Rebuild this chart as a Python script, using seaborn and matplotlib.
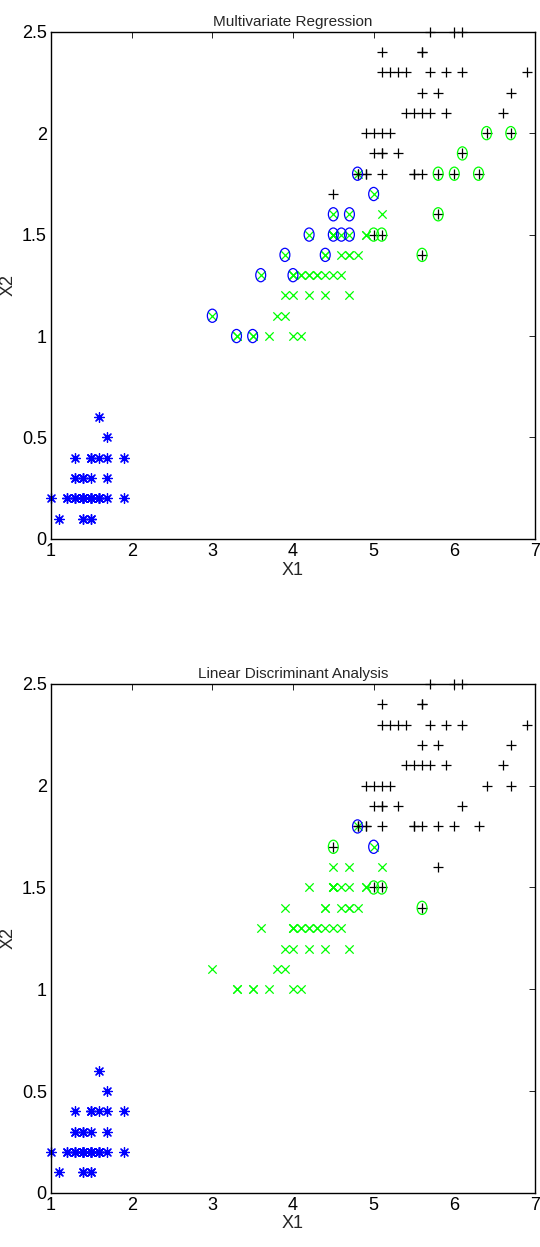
import numpy as np
import pandas as pd
import matplotlib
matplotlib.use("Agg")
import matplotlib.pyplot as plt
from matplotlib.path import Path
from matplotlib.transforms import Affine2D
import seaborn as sns

# iris petal length (X1) / petal width (X2)
setosa_x1 = [1.4, 1.4, 1.3, 1.5, 1.4, 1.7, 1.4, 1.5, 1.4, 1.5, 1.5, 1.6, 1.4, 1.1, 1.2, 1.5, 1.3, 1.4, 1.7, 1.5,
             1.7, 1.5, 1.0, 1.7, 1.9, 1.6, 1.6, 1.5, 1.4, 1.6, 1.6, 1.5, 1.5, 1.4, 1.5, 1.2, 1.3, 1.4, 1.3, 1.5,
             1.3, 1.3, 1.3, 1.6, 1.9, 1.4, 1.6, 1.4, 1.5, 1.4]
setosa_x2 = [0.2, 0.2, 0.2, 0.2, 0.2, 0.4, 0.3, 0.2, 0.2, 0.1, 0.2, 0.2, 0.1, 0.1, 0.2, 0.4, 0.4, 0.3, 0.3, 0.3,
             0.2, 0.4, 0.2, 0.5, 0.2, 0.2, 0.4, 0.2, 0.2, 0.2, 0.2, 0.4, 0.1, 0.2, 0.2, 0.2, 0.2, 0.1, 0.2, 0.2,
             0.3, 0.3, 0.2, 0.6, 0.4, 0.3, 0.2, 0.2, 0.2, 0.2]
versi_x1 = [4.7, 4.5, 4.9, 4.0, 4.6, 4.5, 4.7, 3.3, 4.6, 3.9, 3.5, 4.2, 4.0, 4.7, 3.6, 4.4, 4.5, 4.1, 4.5, 3.9,
            4.8, 4.0, 4.9, 4.7, 4.3, 4.4, 4.8, 5.0, 4.5, 3.5, 3.8, 3.7, 3.9, 5.1, 4.5, 4.5, 4.7, 4.4, 4.1, 4.0,
            4.4, 4.6, 4.0, 3.3, 4.2, 4.2, 4.2, 4.3, 3.0, 4.1]
versi_x2 = [1.4, 1.5, 1.5, 1.3, 1.5, 1.3, 1.6, 1.0, 1.3, 1.4, 1.0, 1.5, 1.0, 1.4, 1.3, 1.4, 1.5, 1.0, 1.5, 1.1,
            1.8, 1.3, 1.5, 1.2, 1.3, 1.4, 1.4, 1.7, 1.5, 1.0, 1.1, 1.0, 1.2, 1.6, 1.5, 1.6, 1.5, 1.3, 1.3, 1.3,
            1.2, 1.4, 1.2, 1.0, 1.3, 1.2, 1.3, 1.3, 1.1, 1.3]
virg_x1 = [6.0, 5.1, 5.9, 5.6, 5.8, 6.6, 4.5, 6.3, 5.8, 6.1, 5.1, 5.3, 5.5, 5.0, 5.1, 5.3, 5.5, 6.7, 6.9, 5.0,
           5.7, 4.9, 6.7, 4.9, 5.7, 6.0, 4.8, 4.9, 5.6, 5.8, 6.1, 6.4, 5.6, 5.1, 5.6, 6.1, 5.6, 5.5, 4.8, 5.4,
           5.6, 5.1, 5.1, 5.9, 5.7, 5.2, 5.0, 5.2, 5.4, 5.1]
virg_x2 = [2.5, 1.9, 2.1, 1.8, 2.2, 2.1, 1.7, 1.8, 1.8, 2.5, 2.0, 1.9, 2.1, 2.0, 2.4, 2.3, 1.8, 2.2, 2.3, 1.5,
           2.3, 2.0, 2.0, 1.8, 2.1, 1.8, 1.8, 1.8, 2.1, 1.6, 1.9, 2.0, 2.2, 1.5, 1.4, 2.3, 2.4, 1.8, 1.8, 2.1,
           2.4, 2.3, 1.9, 2.3, 2.5, 2.3, 1.9, 2.0, 2.3, 1.8]

# misclassified points (circled)
mr_versi_wrong = [(4.8, 1.8), (5.0, 1.7), (4.5, 1.6), (4.7, 1.6), (4.2, 1.5), (4.5, 1.5), (4.6, 1.5), (4.7, 1.5),
                  (3.9, 1.4), (4.4, 1.4), (3.6, 1.3), (4.0, 1.3), (3.0, 1.1), (3.3, 1.0), (3.5, 1.0)]
mr_virg_wrong = [(6.4, 2.0), (6.7, 2.0), (6.1, 1.9), (5.8, 1.8), (6.0, 1.8), (6.3, 1.8), (5.8, 1.6),
                 (5.0, 1.5), (5.1, 1.5), (5.6, 1.4)]
lda_versi_wrong = [(4.8, 1.8), (5.0, 1.7)]
lda_virg_wrong = [(4.5, 1.7), (5.0, 1.5), (5.1, 1.5), (5.6, 1.4)]

titles = ["Multivariate Regression", "Linear Discriminant Analysis"]
xticks = [1, 2, 3, 4, 5, 6, 7]
yticks = [0, 0.5, 1, 1.5, 2, 2.5]
yticklabels = ["0", "0.5", "1", "1.5", "2", "2.5"]

sns.set_style("white")
plt.rcParams['font.family'] = ['Liberation Sans Narrow', 'Liberation Sans', 'DejaVu Sans']
plt.rcParams['font.size'] = 10

ellipse = Path.unit_circle().transformed(Affine2D().scale(0.75, 1.0))

fig = plt.figure(figsize=(5.4, 12.47), dpi=100)
ax1 = fig.add_axes([0.0944, 0.5678, 0.8963, 0.4068])
ax2 = fig.add_axes([0.0944, 0.0435, 0.8963, 0.4080])


def draw(ax, title, versi_wrong, virg_wrong):
    sns.scatterplot(x=setosa_x1, y=setosa_x2, marker=(8, 2, 0), s=50, color='#0000ff',
                    linewidth=0.9, clip_on=False, ax=ax)
    sns.scatterplot(x=versi_x1, y=versi_x2, marker='x', s=36, color='#00ff00',
                    linewidth=0.9, clip_on=False, ax=ax)
    sns.scatterplot(x=virg_x1, y=virg_x2, marker='+', s=60, color='black',
                    linewidth=0.9, clip_on=False, ax=ax)
    bw = pd.DataFrame(versi_wrong, columns=['x1', 'x2'])
    gw = pd.DataFrame(virg_wrong, columns=['x1', 'x2'])
    sns.scatterplot(data=bw, x='x1', y='x2', marker=ellipse, s=90, facecolor='none',
                    edgecolor='#0000ff', linewidth=0.9, ax=ax)
    sns.scatterplot(data=gw, x='x1', y='x2', marker=ellipse, s=90, facecolor='none',
                    edgecolor='#00ff00', linewidth=0.9, ax=ax)
    ax.set_xlim(1, 7)
    ax.set_ylim(0, 2.5)
    ax.set_xticks(xticks)
    ax.set_yticks(yticks)
    ax.set_yticklabels(yticklabels)
    ax.tick_params(direction='in', length=4, width=0.6, top=True, right=True,
                   labelsize=13, pad=3, colors='black')
    for sp in ax.spines.values():
        sp.set_color('black')
        sp.set_linewidth(1.0)
    ax.set_xlabel("X1", fontsize=13, labelpad=1)
    ax.set_ylabel("X2", fontsize=13, labelpad=4)
    ax.set_title(title, fontsize=11, pad=4)


draw(ax1, titles[0], mr_versi_wrong, mr_virg_wrong)
draw(ax2, titles[1], lda_versi_wrong, lda_virg_wrong)

fig.savefig("out.png", dpi=100)
